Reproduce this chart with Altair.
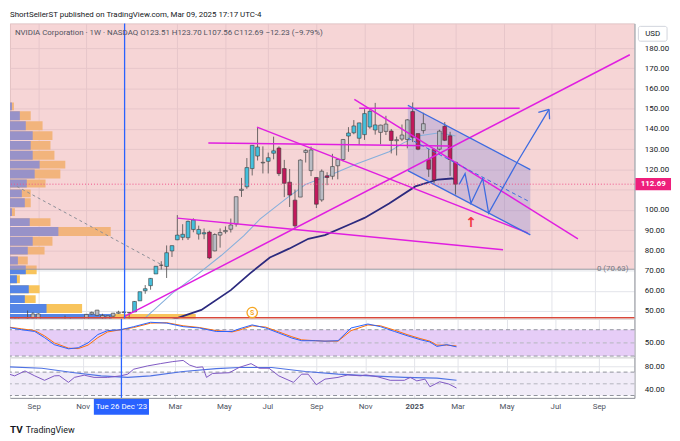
import altair as alt
import pandas as pd

FONT = "Liberation Sans Narrow, Roboto, Arial, sans-serif"
W, H1, H2, H3 = 632, 299, 39, 41

# ---------------- weekly candles (NVDA, split adjusted) ----------------
first_bar = "2023-08-07"
opens = [46.5, 40.4, 45.0, 46.6, 48.5, 45.6, 44.0, 41.6, 44.0, 45.2, 45.0, 41.8, 41.0, 45.7, 48.4, 50.4,
         47.8, 45.6, 47.4, 49.4, 49.2, 49.2, 49.5, 55.0, 60.0, 62.5, 68.3, 72.6, 72.0, 79.7, 85.2, 86.4,
         86.2, 95.0, 90.3, 88.7, 89.0, 79.7, 87.5, 89.2, 90.4, 93.0, 110.2, 111.4, 120.4, 131.1, 123.2,
         124.0, 128.0, 130.6, 120.4, 113.7, 92.1, 106.3, 128.4, 129.6, 116.0, 104.9, 116.8, 116.6, 121.8,
         124.9, 136.5, 138.1, 143.0, 137.2, 148.7, 139.5, 141.9, 138.8, 139.0, 134.2, 135.0, 134.8, 148.6,
         130.0, 139.2, 124.8, 114.8, 130.0, 141.3, 136.6, 123.51]
highs = [46.6, 45.3, 50.2, 49.4, 48.9, 46.0, 44.9, 43.9, 45.7, 47.7, 46.8, 43.6, 45.3, 48.4, 49.7, 50.5,
         48.6, 47.6, 49.0, 50.1, 49.9, 49.3, 54.9, 59.5, 62.8, 66.3, 72.2, 74.6, 82.4, 82.3, 97.4, 92.9,
         94.7, 95.8, 92.2, 90.8, 89.7, 88.4, 90.8, 91.8, 95.7, 106.5, 115.8, 125.6, 132.0, 140.8, 131.4,
         128.3, 136.2, 131.4, 124.7, 120.2, 110.0, 125.0, 130.0, 131.3, 116.0, 120.0, 118.6, 127.7, 125.0,
         135.0, 140.9, 144.4, 143.1, 149.8, 149.7, 152.9, 142.1, 146.5, 140.0, 136.2, 142.2, 144.9, 153.1,
         137.7, 148.0, 130.0, 130.4, 139.6, 143.4, 138.6, 123.70]
lows = [40.3, 40.4, 44.6, 46.2, 45.3, 43.1, 40.9, 40.9, 43.1, 44.2, 41.3, 40.0, 40.6, 45.0, 48.0, 47.4,
        46.0, 45.1, 46.5, 48.6, 48.9, 45.2, 49.5, 55.0, 58.5, 60.5, 68.3, 70.5, 66.3, 76.7, 85.0, 85.0,
        85.1, 88.9, 85.3, 85.5, 75.6, 79.5, 81.3, 88.2, 88.8, 91.7, 106.4, 110.4, 117.0, 124.4, 118.0,
        118.0, 125.0, 116.7, 106.3, 101.4, 90.7, 106.3, 123.4, 116.7, 100.9, 104.0, 112.2, 115.0, 115.1,
        124.0, 128.7, 137.4, 132.1, 134.6, 140.1, 137.2, 132.4, 137.0, 127.9, 126.9, 134.0, 130.4, 133.5,
        129.5, 137.7, 116.3, 113.0, 129.4, 134.0, 116.8, 107.56]
closes = [40.8, 43.3, 46.0, 48.5, 45.5, 43.9, 41.6, 43.5, 45.7, 45.4, 41.3, 40.5, 45.0, 48.3, 49.3, 47.8,
          46.7, 47.6, 48.9, 48.8, 49.5, 49.1, 54.7, 59.5, 61.0, 66.1, 72.1, 72.6, 78.8, 82.3, 87.5, 87.9,
          94.3, 90.3, 88.0, 88.1, 76.2, 87.8, 88.8, 89.8, 92.5, 106.5, 109.6, 120.9, 131.9, 126.6, 123.5,
          125.8, 129.2, 117.9, 113.1, 107.3, 104.8, 124.6, 129.4, 119.4, 102.8, 119.1, 116.0, 121.4, 124.9,
          134.8, 138.0, 141.5, 135.4, 147.6, 141.0, 142.0, 138.3, 142.4, 134.3, 134.7, 137.0, 144.5, 135.9,
          137.7, 142.6, 120.1, 129.8, 138.9, 134.4, 124.9, 112.69]
# candle tone: t = cyan, m = magenta, g = grey
bar_tone = list("gggggggggggggggggggggg" "tttttttttttttt" "m" "gggggg" "ttt" "g" "tt" "mmmm" "ggg"
                "m" "g" "m" "ggg" "tttttt" "gg" "m" "ggg" "mm" "g" "mm" "g" "mmm")

week0 = pd.Timestamp("2023-09-04")   # week index 0

# moving averages (week index, price)
lma_w = [19.5, 20.2, 25.1, 30.0, 34.2, 38.4, 41.5, 46.4, 50.0, 54.7, 59.6, 65.6, 68.2, 71.0, 74.7, 77.3, 78.0]
lma_p = [45.0, 47.1, 58.8, 68.6, 77.4, 87.1, 95.5, 105.7, 112.6, 117.4, 122.8, 128.7, 133.0, 136.5, 138.0, 137.0, 136.5]
dma_w = [24.0, 25.0, 30.5, 36.0, 39.6, 43.3, 46.9, 50.5, 53.6, 58.4, 61.0, 65.6, 70.5, 74.7, 77.3, 78.2]
dma_p = [44.5, 45.6, 50.5, 60.3, 68.6, 76.4, 80.8, 85.7, 87.5, 93.0, 96.0, 103.1, 111.6, 115.0, 115.5, 115.0]

# volume profile rows (price bin low/high, up volume, total volume; relative units)
vp_lo = [149.2, 144.3, 139.4, 134.6, 129.7, 124.8, 120.4, 115.5, 111.1, 106.2, 101.3, 96.9, 92.0, 87.1,
         82.3, 77.9, 73.0, 68.1, 63.7, 58.8, 53.9, 49.0, 44.3]
vp_hi = [153.1, 148.7, 143.8, 138.9, 134.1, 129.2, 124.3, 119.9, 115.0, 110.1, 105.7, 100.8, 95.9, 91.5,
         86.7, 81.8, 76.9, 72.5, 67.6, 62.7, 57.8, 53.4, 48.5]
vp_up = [2, 10, 16, 23, 21, 23, 30, 25, 17, 12, 15, 2, 20, 49, 23, 18, 8, 16, 7, 19, 15, 37, 103]
vp_total = [4, 21, 33, 43, 41, 45, 56, 51, 36, 21, 21, 5, 41, 102, 43, 35, 18, 27, 10, 30, 26, 73, 188]

# Stoch RSI (K, D) and RSI with its average
stk_w = [-4.6, -2.2, 0.2, 2.0, 3.8, 6.4, 8.2, 10.0, 11.8, 13.6, 16.0, 18.4, 21.5, 24.5, 27.5, 30.5, 33.6, 36.5,
         37.8, 40.2, 42.7, 45.1, 47.5, 49.3, 51.8, 53.6, 56.0, 58.4, 61.5, 63.8, 66.4, 68.7, 71.1, 72.9, 74.2, 76.0, 77.8]
stk_k = [85, 80, 76, 62, 46, 36.5, 39, 50, 69, 78, 80, 87, 97, 95, 87, 84, 76, 76,
         82, 91, 84, 72.5, 61, 55, 55, 54, 55, 84, 93, 87, 76, 66.5, 57.5, 52, 42, 46, 41]
stk_d = [86, 82, 78, 66, 50, 38, 37, 45, 62, 75, 80, 85, 95, 96, 89, 85, 78, 75,
         79, 89, 86, 75, 64, 57, 55, 54, 54, 78, 91, 89, 79, 69, 60, 54, 45, 45, 43]
rsi_w = [-4.5, -3.5, -1.6, 0.2, 2.0, 3.8, 4.7, 6.4, 7.5, 9.3, 11.1, 13.6, 16.0, 17.3, 18.4, 20.9, 23.3, 25.6,
         27.5, 28.7, 30.0, 31.1, 31.8, 32.9, 36.0, 37.8, 40.0, 41.5, 43.3, 45.1, 47.8, 49.3, 50.5, 52.0, 53.6,
         56.0, 57.8, 60.2, 61.1, 63.3, 65.6, 68.2, 69.3, 70.5, 72.0, 72.9, 74.7, 76.4, 77.8]
rsi_v = [66.5, 63.6, 72, 63.6, 56, 63.6, 64, 52.5, 61, 64.8, 61, 61, 63.6, 66.5, 75, 80.5, 84.5, 88,
         90, 82, 78, 79, 61, 67.7, 69, 78, 84.5, 76.6, 76.6, 63.6, 52.5, 66.5, 66.5, 48.4, 58,
         61, 65.3, 63.6, 65.3, 62, 56, 56, 61, 55, 58, 45, 53.5, 49.6, 42.8]
rsima_w = [-4.5, 1.5, 7.5, 12.4, 17.3, 21.5, 27.5, 33.6, 37.8, 43.8, 50.0, 56.0, 62.0, 68.2, 74.2, 77.8]
rsima_v = [79, 76.6, 69, 63.6, 61, 63.6, 71, 76, 78, 78, 71, 66.5, 63.6, 61, 59.7, 56]

# drawings (week index, price)
trend_id = ["a", "a", "b", "b", "c", "c", "d", "d", "e", "e", "f", "f"]
trend_w = [26.0, 86.9, 16.0, 110.6, 60.0, 90.0, 31.8, 76.9, 59.1, 100.9, 40.9, 91.5]
trend_p = [95.9, 80.3, 47.1, 176.7, 150.2, 150.2, 133.1, 131.6, 154.6, 85.7, 140.9, 88.6]
ch_w = [69.1, 92.0]
ch_up = [151.7, 119.9]
ch_lo = [119.4, 87.6]
ch_mid = [135.5, 103.8]
zig_w = [78.7, 79.8, 80.9, 83.1, 84.2, 89.6, 95.5]
zig_p = [112.6, 117.9, 103.3, 115.5, 98.4, 123.8, 149.7]
head_id = ["l", "l", "r", "r"]
head_w = [93.5, 95.5, 95.6, 95.5]
head_p = [148.2, 149.7, 144.8, 149.7]
diag_w = [-4.0, 23.3]
diag_p = [111.6, 72.5]
stop_level = 70.63
red_level = 46.6
last_close = 112.69
cross_date = "2023-12-26"
split_date = "2024-06-10"
split_price = 49.2
arrow_w, arrow_p = 80.9, 93.5

tick_dates = ["2023-09-04", "2023-11-06", "2024-03-04", "2024-05-06", "2024-07-01", "2024-09-02",
              "2024-11-04", "2025-01-06", "2025-03-03", "2025-05-05", "2025-07-07", "2025-09-01"]
price_ticks = list(range(50, 190, 10))

header = "ShortSellerST published on TradingView.com, Mar 09, 2025 17:17 UTC-4"
legend = "NVIDIA Corporation · 1W · NASDAQ   O123.51  H123.70  L107.56  C112.69  −12.23 (−9.79%)"

# ---------------- helpers ----------------
def wk(w):
    return week0 + pd.Timedelta(days=7 * w)

def dt(ts):
    ts = pd.Timestamp(ts)
    return alt.DateTime(year=ts.year, month=ts.month, date=ts.day, hours=ts.hour, minutes=ts.minute)

GRID = "#e3e4ea"
xs = alt.Scale(type="time", domain=[dt(wk(-4.364)), dt(wk(110.545))], nice=False)
ticks_dt = [dt(d) for d in tick_dates]
ax_hidden = alt.Axis(values=ticks_dt, grid=True, gridColor=GRID, labels=False, ticks=False,
                     domain=False, title=None)
ax_bottom = alt.Axis(values=ticks_dt, grid=True, gridColor=GRID, ticks=False, domain=True,
                     domainColor="#8f929b", title=None, labelFontSize=8, labelColor="#4c525e",
                     labelPadding=5, labelFont=FONT,
                     labelExpr="month(datum.value) == 0 ? timeFormat(datum.value, '%Y') : timeFormat(datum.value, '%b')",
                     labelFontWeight={"condition": {"test": "month(datum.value) == 0", "value": "bold"},
                                      "value": "normal"})

ys_p = alt.Scale(domain=[46.09, 192.2], nice=False, zero=False)
ax_p = alt.Axis(orient="right", values=price_ticks, grid=True, gridColor=GRID, ticks=False,
                tickSize=0, domain=True, domainColor="#8f929b", labelFontSize=8, labelColor="#131722",
                labelPadding=10, labelAlign="left", title=None, labelFont=FONT,
                labelExpr="datum.value == 110 ? '' : format(datum.value, '.2f')")
ys_s = alt.Scale(domain=[17.0, 104.8], nice=False, zero=False)
ax_s = alt.Axis(orient="right", values=[50], format=".2f", grid=False, ticks=False, tickSize=0,
                domain=True, domainColor="#8f929b", labelFontSize=8, labelColor="#131722",
                labelPadding=10, labelAlign="left", title=None, labelFont=FONT)
ys_r = alt.Scale(domain=[25.9, 95.2], nice=False, zero=False)
ax_r = alt.Axis(orient="right", values=[40, 60, 80], grid=True, gridColor=GRID, ticks=False, tickSize=0,
                domain=True, domainColor="#8f929b", labelFontSize=8, labelColor="#131722",
                labelPadding=10, labelAlign="left", title=None, labelFont=FONT,
                labelExpr="datum.value == 60 ? '' : format(datum.value, '.2f')")


def X(f, axis=ax_hidden):
    return alt.X(f, type="temporal", scale=xs, axis=axis)


def Y(f, sc, ax):
    return alt.Y(f, type="quantitative", scale=sc, axis=ax)


def pts(ws, vs, ids=None):
    d = pd.DataFrame({"d": [wk(w) for w in ws], "v": vs})
    if ids is not None:
        d["id"] = ids
    return d


# ---------------- price pane ----------------
candles = pd.DataFrame({"d": pd.date_range(first_bar, periods=len(opens), freq="7D"),
                        "o": opens, "h": highs, "l": lows, "c": closes, "tone": bar_tone})
candles["b0"] = candles[["o", "c"]].min(axis=1)
candles["b1"] = candles[["o", "c"]].max(axis=1)

vp = pd.DataFrame({"lo": vp_lo, "hi": vp_hi, "up": vp_up, "tot": vp_total, "z": 0})
vx = alt.Scale(domain=[0, W], nice=False, zero=False)
vol_orange = alt.Chart(vp).mark_rect(color="#f8c45c", clip=True).encode(
    x=alt.X("z:Q", scale=vx, axis=None), x2="tot:Q",
    y=Y("lo:Q", ys_p, ax_p), y2="hi:Q")
vol_blue = alt.Chart(vp).mark_rect(color="#5585e6", clip=True).encode(
    x=alt.X("z:Q", scale=vx, axis=None), x2="up:Q",
    y=Y("lo:Q", ys_p, ax_p), y2="hi:Q")
pink = alt.Chart(pd.DataFrame({"lo": [stop_level], "hi": [200.0]})).mark_rect(
    color="#eba2a5", opacity=0.45, clip=True).encode(y=Y("lo:Q", ys_p, ax_p), y2="hi:Q")
vol_group = alt.layer(vol_orange, vol_blue, pink)

layers = []
layers.append(alt.Chart(pd.DataFrame({"v": [stop_level]})).mark_rule(color="#9598a1", strokeWidth=1).encode(
    y=Y("v:Q", ys_p, ax_p)))
layers.append(alt.Chart(pts(diag_w, diag_p)).mark_line(color="#8a8d96", strokeWidth=1, strokeDash=[3, 3],
                                                        clip=True).encode(x=X("d"), y=Y("v:Q", ys_p, ax_p)))
chdf = pd.DataFrame({"d": [wk(w) for w in ch_w], "up": ch_up, "lo": ch_lo, "mid": ch_mid})
layers.append(alt.Chart(chdf).mark_area(color="#4f5fd6", opacity=0.22).encode(
    x=X("d"), y=Y("up:Q", ys_p, ax_p), y2="lo:Q"))
layers.append(alt.Chart(pts(dma_w, dma_p)).mark_line(color="#2c2a7e", strokeWidth=1.8, clip=True).encode(
    x=X("d"), y=Y("v:Q", ys_p, ax_p)))
layers.append(alt.Chart(pts(lma_w, lma_p)).mark_line(color="#86afdc", strokeWidth=1.1, clip=True).encode(
    x=X("d"), y=Y("v:Q", ys_p, ax_p)))
layers.append(alt.Chart(candles).mark_rule(color="#4a4a4a", strokeWidth=0.8, clip=True).encode(
    x=X("d"), y=Y("l:Q", ys_p, ax_p), y2="h:Q"))
layers.append(alt.Chart(candles).mark_bar(size=3.8, stroke="#3a3a3a", strokeWidth=0.6, clip=True).encode(
    x=X("d"), y=Y("b0:Q", ys_p, ax_p), y2="b1:Q",
    color=alt.Color("tone:N", scale=alt.Scale(domain=["t", "m", "g"], range=["#45c0dd", "#c2185b", "#b9bcc4"]),
                    legend=None)))
layers.append(alt.Chart(pts(trend_w, trend_p, trend_id)).mark_line(color="#e01fe0", strokeWidth=1.5,
                                                                    clip=True).encode(
    x=X("d"), y=Y("v:Q", ys_p, ax_p), detail="id:N"))
for col in ["up", "lo"]:
    layers.append(alt.Chart(chdf).mark_line(color="#3d6be0", strokeWidth=1.3).encode(
        x=X("d"), y=Y(col + ":Q", ys_p, ax_p)))
layers.append(alt.Chart(chdf).mark_line(color="#3d6be0", strokeWidth=1, strokeDash=[4, 3]).encode(
    x=X("d"), y=Y("mid:Q", ys_p, ax_p)))
layers.append(alt.Chart(pts(zig_w, zig_p)).mark_line(color="#3d6be0", strokeWidth=1.3).encode(
    x=X("d"), y=Y("v:Q", ys_p, ax_p)))
layers.append(alt.Chart(pts(head_w, head_p, head_id)).mark_line(color="#3d6be0", strokeWidth=1.3).encode(
    x=X("d"), y=Y("v:Q", ys_p, ax_p), detail="id:N"))
layers.append(alt.Chart(pd.DataFrame({"v": [red_level]})).mark_rule(color="#d9473a", strokeWidth=1.5).encode(
    y=Y("v:Q", ys_p, ax_p)))
layers.append(alt.Chart(pd.DataFrame({"v": [last_close]})).mark_rule(color="#f0508a", strokeWidth=1,
                                                                      strokeDash=[1, 2]).encode(
    y=Y("v:Q", ys_p, ax_p)))
layers.append(alt.Chart(pd.DataFrame({"d": [pd.Timestamp(cross_date)]})).mark_rule(
    color="#2962ff", strokeWidth=1.3).encode(x=X("d")))
sp = pd.DataFrame({"d": [pd.Timestamp(split_date)], "v": [split_price], "t": ["S"]})
layers.append(alt.Chart(sp).mark_point(shape="circle", size=110, filled=True, fill="white", stroke="#f5a623",
                                       strokeWidth=1.3, opacity=1).encode(x=X("d"), y=Y("v:Q", ys_p, ax_p)))
layers.append(alt.Chart(sp).mark_text(color="#f5a623", fontSize=7, fontWeight="bold", font=FONT).encode(
    x=X("d"), y=Y("v:Q", ys_p, ax_p), text="t:N"))
layers.append(alt.Chart(pd.DataFrame({"d": [wk(arrow_w)], "v": [arrow_p], "t": ["↑"]})).mark_text(
    color="#f23645", fontSize=14, fontWeight="bold", font="DejaVu Sans").encode(
    x=X("d"), y=Y("v:Q", ys_p, ax_p), text="t:N"))
layers.append(alt.Chart(pd.DataFrame({"v": [stop_level], "t": ["0 (70.63)"]})).mark_text(
    color="#787b86", fontSize=8, font=FONT, align="center").encode(
    x=alt.value(W - 22), y=Y("v:Q", ys_p, ax_p), text="t:N"))
pl = pd.DataFrame({"lo": [last_close - 3.0], "hi": [last_close + 3.0], "v": [last_close],
                   "t": [f"{last_close:.2f}"]})
layers.append(alt.Chart(pl).mark_rect(color="#ee1f7c").encode(
    x=alt.value(W + 1), x2=alt.value(W + 37), y=Y("lo:Q", ys_p, ax_p), y2="hi:Q"))
layers.append(alt.Chart(pl).mark_text(color="white", fontSize=8, fontWeight="bold", font=FONT).encode(
    x=alt.value(W + 19), y=Y("v:Q", ys_p, ax_p), text="t:N"))
layers.append(alt.Chart(pd.DataFrame({"t": ["USD"]})).mark_rect(fill="white", stroke="#d1d4dc",
                                                               cornerRadius=2).encode(
    x=alt.value(W + 4), x2=alt.value(W + 33), y=alt.value(3), y2=alt.value(18)))
layers.append(alt.Chart(pd.DataFrame({"t": ["USD"]})).mark_text(fontSize=8, color="#131722", font=FONT).encode(
    x=alt.value(W + 18.5), y=alt.value(10.5), text="t:N"))
layers.append(alt.Chart(pd.DataFrame({"t": [legend]})).mark_text(
    fontSize=8, color="#50535e", align="left", font=FONT).encode(
    x=alt.value(5), y=alt.value(10), text="t:N"))
layers.append(alt.Chart(pd.DataFrame({"t": [header]})).mark_text(
    fontSize=8, color="#131722", align="left", font=FONT).encode(
    x=alt.value(0), y=alt.value(-8), text="t:N"))

main_group = alt.layer(*layers)
price = alt.layer(vol_group, main_group).resolve_scale(x="independent").properties(width=W, height=H1)

# ---------------- stoch pane ----------------
s_layers = [
    alt.Chart(pd.DataFrame({"lo": [20], "hi": [80]})).mark_rect(color="#e6cdf7").encode(
        y=Y("lo:Q", ys_s, ax_s), y2="hi:Q"),
    alt.Chart(pd.DataFrame({"v": [80, 20]})).mark_rule(color="#8f929b", strokeDash=[4, 3]).encode(
        y=Y("v:Q", ys_s, ax_s)),
    alt.Chart(pd.DataFrame({"v": [50]})).mark_rule(color="#b4b6be", strokeDash=[4, 3]).encode(
        y=Y("v:Q", ys_s, ax_s)),
    alt.Chart(pd.DataFrame({"v": [17.0]})).mark_rule(color="#d6d8de").encode(y=Y("v:Q", ys_s, ax_s)),
    alt.Chart(pts(stk_w, stk_d)).mark_line(color="#ff6d00", strokeWidth=1, clip=True).encode(
        x=X("d"), y=Y("v:Q", ys_s, ax_s)),
    alt.Chart(pts(stk_w, stk_k)).mark_line(color="#2962ff", strokeWidth=1, clip=True).encode(
        x=X("d"), y=Y("v:Q", ys_s, ax_s)),
    alt.Chart(pd.DataFrame({"d": [pd.Timestamp(cross_date)]})).mark_rule(
        color="#2962ff", strokeWidth=1.3).encode(x=X("d")),
]
stoch = alt.layer(*s_layers).properties(width=W, height=H2)

# ---------------- RSI pane ----------------
cd = pd.Timestamp(cross_date)
box = pd.DataFrame({"d0": [cd - pd.Timedelta(days=35.5)], "d1": [cd + pd.Timedelta(days=35.5)],
                    "d": [cd], "t": ["Tue 26 Dec '23"]})
r_layers = [
    alt.Chart(pd.DataFrame({"lo": [30], "hi": [70]})).mark_rect(color="#f1ecf8").encode(
        y=Y("lo:Q", ys_r, ax_r), y2="hi:Q"),
    alt.Chart(pd.DataFrame({"v": [70, 30]})).mark_rule(color="#8f929b", strokeDash=[4, 3]).encode(
        y=Y("v:Q", ys_r, ax_r)),
    alt.Chart(pd.DataFrame({"v": [50]})).mark_rule(color="#b4b6be", strokeDash=[4, 3]).encode(
        y=Y("v:Q", ys_r, ax_r)),
    alt.Chart(pts(rsima_w, rsima_v)).mark_line(color="#4f72e3", strokeWidth=1.1, clip=True).encode(
        x=X("d", ax_bottom), y=Y("v:Q", ys_r, ax_r)),
    alt.Chart(pts(rsi_w, rsi_v)).mark_line(color="#7e57c2", strokeWidth=1, clip=True).encode(
        x=X("d", ax_bottom), y=Y("v:Q", ys_r, ax_r)),
    alt.Chart(pd.DataFrame({"d": [cd]})).mark_rule(color="#2962ff", strokeWidth=1.3).encode(
        x=X("d", ax_bottom)),
    alt.Chart(box).mark_rect(color="#2962ff").encode(
        x=X("d0", ax_bottom), x2="d1", y=alt.value(H3 + 1), y2=alt.value(H3 + 17)),
    alt.Chart(box).mark_text(color="white", fontSize=8, font=FONT).encode(
        x=X("d", ax_bottom), y=alt.value(H3 + 9.5), text="t:N"),
    alt.Chart(pd.DataFrame({"t": ["TV"]})).mark_text(fontSize=10, fontWeight="bold", color="#131722",
                                                     align="left", font="Roboto").encode(
        x=alt.value(0), y=alt.value(H3 + 33), text="t:N"),
    alt.Chart(pd.DataFrame({"t": ["TradingView"]})).mark_text(fontSize=9, color="#131722",
                                                              align="left", font=FONT).encode(
        x=alt.value(16), y=alt.value(H3 + 33), text="t:N"),
]
rsi = alt.layer(*r_layers).properties(width=W, height=H3)

chart = alt.vconcat(price, stoch, rsi, spacing=0, bounds="flush").resolve_scale(
    x="independent", y="independent").properties(padding=0, background="white").configure_view(
    strokeWidth=0).configure(font=FONT)

chart.save("out.html", embed_options={"renderer": "svg", "actions": False})
